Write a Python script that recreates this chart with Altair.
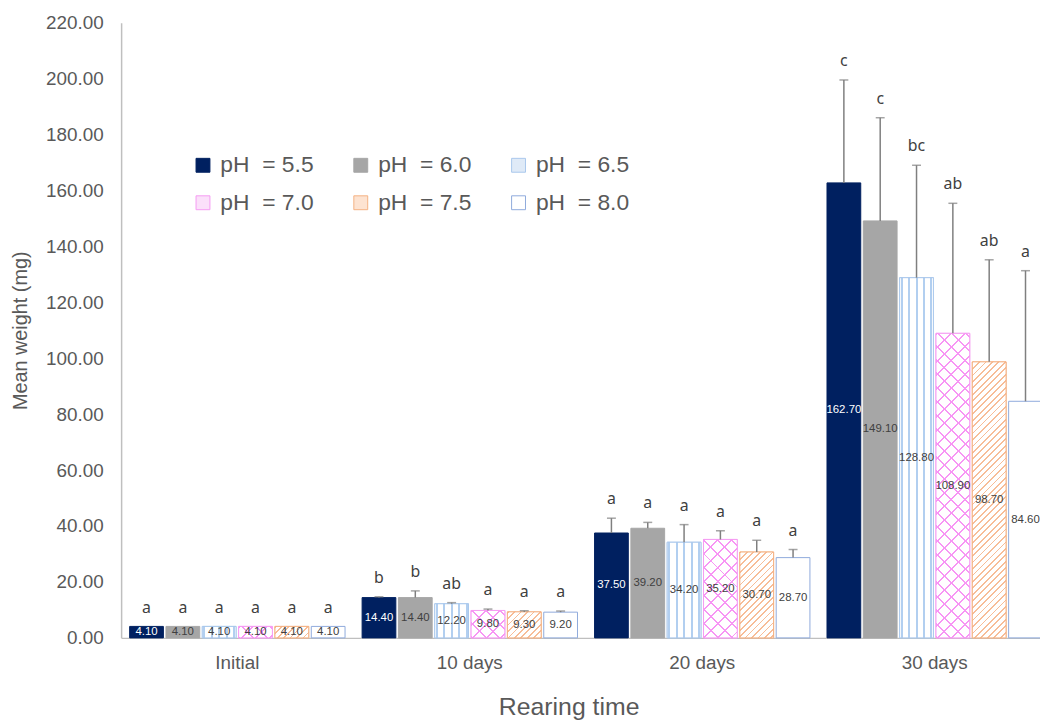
import altair as alt
import pandas as pd

# ---------------- data ----------------
times = ["Initial", "10 days", "20 days", "30 days"]
ph_labels = ["pH\u00a0\u00a0=\u00a05.5", "pH\u00a0\u00a0=\u00a06.0", "pH\u00a0\u00a0=\u00a06.5",
             "pH\u00a0\u00a0=\u00a07.0", "pH\u00a0\u00a0=\u00a07.5", "pH\u00a0\u00a0=\u00a08.0"]

mean_55 = [4.10, 14.40, 37.50, 162.70]
mean_60 = [4.10, 14.40, 39.20, 149.10]
mean_65 = [4.10, 12.20, 34.20, 128.80]
mean_70 = [4.10, 9.80, 35.20, 108.90]
mean_75 = [4.10, 9.30, 30.70, 98.70]
mean_80 = [4.10, 9.20, 28.70, 84.60]

sd_55 = [0.0, 0.3, 5.3, 36.8]
sd_60 = [0.0, 2.4, 2.1, 36.9]
sd_65 = [0.0, 0.4, 6.3, 40.2]
sd_70 = [0.0, 0.5, 3.1, 46.5]
sd_75 = [0.0, 0.4, 4.2, 36.5]
sd_80 = [0.0, 0.4, 2.9, 46.7]

let_55 = ["a", "b", "a", "c"]
let_60 = ["a", "b", "a", "c"]
let_65 = ["a", "ab", "a", "bc"]
let_70 = ["a", "a", "a", "ab"]
let_75 = ["a", "a", "a", "ab"]
let_80 = ["a", "a", "a", "a"]

means = [mean_55, mean_60, mean_65, mean_70, mean_75, mean_80]
sds = [sd_55, sd_60, sd_65, sd_70, sd_75, sd_80]
lets = [let_55, let_60, let_65, let_70, let_75, let_80]

rows = []
for i, ph in enumerate(ph_labels):
    for j, t in enumerate(times):
        rows.append(dict(time=t, ph=ph, mean=means[i][j], sd=sds[i][j],
                         letter=lets[i][j], label=f"{means[i][j]:.2f}"))
df = pd.DataFrame(rows)

# ---------------- layout / style ----------------
W, H = 926, 620
X_RANGE = 937
PI, PO = 0.0734, 0.0367
PI2 = 0.071
YMAX = 220
PPU = H / YMAX
step = X_RANGE / (len(times) - PI + 2 * PO)
bandw = step * (1 - PI)
step2 = bandw / (len(ph_labels) - PI2)
BAR_W = step2 * (1 - PI2)

fills = ["#002060", "#a6a6a6", "#dfeaf7", "#fbe0fa", "#fde3d1", "#ffffff"]
strokes = ["#002060", "#a6a6a6", "#a9c8ec", "#f59cf2", "#f4b183", "#8faadc"]
TXT = "#595959"
FONT = "Liberation Sans"

xscale = alt.Scale(domain=times, range=[0, X_RANGE], paddingInner=PI, paddingOuter=PO)
oscale = alt.Scale(domain=ph_labels, paddingInner=PI2, paddingOuter=0)
yscale = alt.Scale(domain=[0, YMAX], nice=False)

x_axis = alt.Axis(
    title="Rearing time", labelAngle=0, labelFontSize=19, labelColor=TXT, labelFont=FONT,
    labelPadding=16, ticks=False, grid=False, domainColor="#bfbfbf", domainWidth=1.5,
    titleFontSize=25, titleColor=TXT, titleFont=FONT, titleFontWeight="normal",
    titleX=451, titleY=69, titleBaseline="middle", titleAlign="center")
y_axis = alt.Axis(
    values=list(range(0, YMAX + 1, 20)), format=".2f", title="Mean weight (mg)",
    labelFontSize=19, labelColor=TXT, labelFont=FONT, labelPadding=18, ticks=False,
    grid=False, domainColor="#bfbfbf", domainWidth=1.5,
    titleFontSize=20, titleColor=TXT, titleFont=FONT, titleFontWeight="normal",
    titleX=-101, titleY=H / 2, titleAngle=-90, titleBaseline="middle", titleAlign="center")

X = alt.X("time:N", scale=xscale, axis=x_axis, title="Rearing time")
OFF = alt.XOffset("ph:N", scale=oscale)


def Y(field):
    return alt.Y(field, scale=yscale, axis=y_axis, title="Mean weight (mg)")


leg = alt.Legend(title=None, orient="none", legendX=71, legendY=132, columns=3,
                 direction="horizontal",
                 symbolType="square", symbolSize=196, symbolStrokeWidth=1,
                 labelFontSize=23, labelColor=TXT, labelFont=FONT, labelOffset=6,
                 columnPadding=36, rowPadding=14, padding=0, labelLimit=300)

base = alt.Chart(df)

bars = base.mark_bar(strokeWidth=1).encode(
    x=X, xOffset=OFF, y=Y("mean:Q"),
    fill=alt.Fill("ph:N", scale=alt.Scale(domain=ph_labels, range=fills), legend=leg),
    stroke=alt.Stroke("ph:N", scale=alt.Scale(domain=ph_labels, range=strokes), legend=leg),
)


def stops_from(segments, fg, bg):
    st = [{"offset": 0, "color": bg}]
    for s, e in segments:
        s = min(max(s, 0.0), 1.0)
        e = min(max(e, 0.0), 1.0)
        if e <= s:
            continue
        st += [{"offset": s, "color": bg}, {"offset": s, "color": fg},
               {"offset": e, "color": fg}, {"offset": e, "color": bg}]
    st.append({"offset": 1, "color": bg})
    return st


layers = [bars]

# vertical stripes (pH 6.5)
seg = []
p = 1.0
while p < BAR_W:
    seg.append((p / BAR_W, (p + 2.0) / BAR_W))
    p += 7.5
vgrad = {"gradient": "linear", "x1": 0, "y1": 0, "x2": 1, "y2": 0,
         "stops": stops_from(seg, "#b2cff0", "#ffffff")}
layers.append(base.transform_filter(alt.datum.ph == ph_labels[2]).mark_bar(
    fill=vgrad, stroke=strokes[2], strokeWidth=1).encode(x=X, xOffset=OFF, y=Y("mean:Q")))


def diag(h, direction, period, lw, fg, bg):
    w = BAR_W
    L = w + h
    lam = L / (w * w + h * h)
    seg = []
    k = 0
    while k * period < L:
        seg.append((k * period / L, (k * period + lw) / L))
        k += 1
    if direction == "/":
        g = {"gradient": "linear", "x1": 0, "y1": 0, "x2": lam * w, "y2": lam * h}
    else:
        g = {"gradient": "linear", "x1": 0, "y1": 1, "x2": lam * w, "y2": 1 - lam * h}
    g["stops"] = stops_from(seg, fg, bg)
    return g


for j, t in enumerate(times):
    h70 = mean_70[j] * PPU
    h75 = mean_75[j] * PPU
    f70 = (alt.datum.ph == ph_labels[3]) & (alt.datum.time == t)
    f75 = (alt.datum.ph == ph_labels[4]) & (alt.datum.time == t)
    layers.append(base.transform_filter(f70).mark_bar(
        fill=diag(h70, "/", 14, 2.0, "#f796f4", "#ffffff"), stroke=strokes[3], strokeWidth=1
    ).encode(x=X, xOffset=OFF, y=Y("mean:Q")))
    layers.append(base.transform_filter(f70).mark_bar(
        fill=diag(h70, "\\", 14, 2.0, "#f796f4", "rgba(255,255,255,0)"), strokeWidth=0
    ).encode(x=X, xOffset=OFF, y=Y("mean:Q")))
    layers.append(base.transform_filter(f75).mark_bar(
        fill=diag(h75, "/", 6.5, 1.8, "#f7bd98", "#ffffff"), stroke=strokes[4], strokeWidth=1
    ).encode(x=X, xOffset=OFF, y=Y("mean:Q")))

calc = base.transform_calculate(upper="datum.mean + datum.sd", mid="datum.mean / 2")

err = calc.transform_filter("datum.sd > 0").mark_rule(color="#7f7f7f", strokeWidth=1.5).encode(
    x=X, xOffset=OFF, y=Y("mean:Q"), y2="upper:Q")
cap = calc.transform_filter("datum.sd > 0").mark_tick(color="#7f7f7f", thickness=1.5, size=9).encode(
    x=X, xOffset=OFF, y=Y("upper:Q"))

vals = calc.mark_text(fontSize=11.5, font=FONT).encode(
    x=X, xOffset=OFF, y=Y("mid:Q"), text="label:N",
    color=alt.condition(alt.datum.ph == ph_labels[0], alt.value("#ffffff"), alt.value("#404040")))

letters = calc.mark_text(fontSize=16, font="Noto Sans", color="#404040", baseline="alphabetic", dy=-14).encode(
    x=X, xOffset=OFF, y=Y("upper:Q"), text="letter:N")

layers += [err, cap, vals, letters]

chart = alt.layer(*layers).properties(
    width=W, height=H,
    padding={"left": 114, "top": 12, "right": 0, "bottom": 80},
    autosize=alt.AutoSizeParams(type="none"),
    background="white",
).configure_view(stroke=None)

chart.save("out.html", embed_options={"renderer": "svg", "actions": False})
